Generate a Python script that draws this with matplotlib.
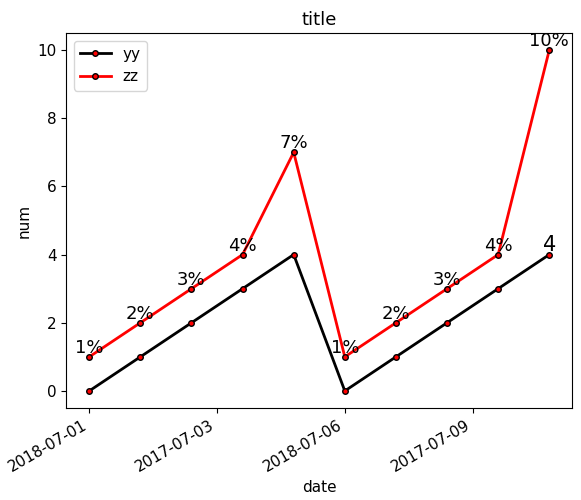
import matplotlib
matplotlib.use("Agg")
import matplotlib.pyplot as plt

x = list(range(10))
yy = [0, 1, 2, 3, 4, 0, 1, 2, 3, 4]
zz = [1, 2, 3, 4, 7, 1, 2, 3, 4, 10]
zz_labels = ["1%", "2%", "3%", "4%", "7%", "1%", "2%", "3%", "4%", "10%"]
tick_pos = [0, 2.5, 5, 7.5]
tick_labels = ["2018-07-01", "2017-07-03", "2018-07-06", "2017-07-09"]

plt.rcParams["font.size"] = 11
fig, ax = plt.subplots(figsize=(5.81, 5.0), dpi=100)
ax.plot(x, yy, color="black", lw=2, marker="o", ms=4, mfc="red", mec="black", label="yy")
ax.plot(x, zz, color="red", lw=2, marker="o", ms=4, mfc="red", mec="black", label="zz")
for xi, yi, t in zip(x, zz, zz_labels):
    ax.text(xi, yi, t, ha="center", va="bottom", fontsize=13)
ax.text(x[-1], yy[-1], str(yy[-1]), ha="center", va="bottom", fontsize=15)
ax.set_xticks(tick_pos)
ax.set_xticklabels(tick_labels)
fig.autofmt_xdate()
ax.set_xlabel("date")
ax.set_ylabel("num")
ax.set_title("title", fontsize=13)
ax.legend(loc="upper left")
fig.subplots_adjust(left=0.114, right=0.985, top=0.934, bottom=0.184)
fig.savefig("out.png")
